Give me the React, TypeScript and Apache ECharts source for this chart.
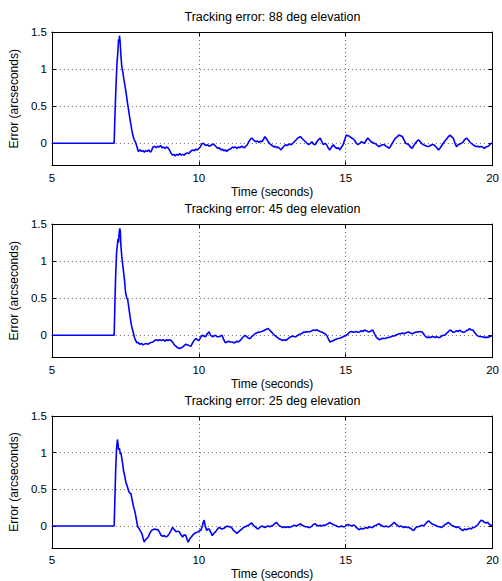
import React, { useEffect, useRef } from "react";
import * as echarts from "echarts";

const titles = [
  "Tracking error: 88 deg elevation",
  "Tracking error: 45 deg elevation",
  "Tracking error: 25 deg elevation",
];
const xTicks = [5, 10, 15, 20];
const yTicks = [0, 0.5, 1, 1.5];

const err88: number[][] = [
  [5,0],[7.12,0],[7.14,0.3],[7.18,0.75],[7.215,1.08],[7.24,1.2],[7.27,1.4],[7.29,1.36],[7.3,1.45],[7.32,1.38],[7.35,1.18],[7.38,1.03],[7.42,0.95],[7.45,0.86],[7.49,0.77],[7.53,0.67],[7.57,0.55],[7.61,0.45],[7.66,0.32],[7.72,0.18],[7.76,0.1],[7.8,0.05],[7.84,0.02],[7.89,-0.04],[7.94,-0.11],[8.0,-0.09],[8.05,-0.11],[8.1,-0.1],[8.15,-0.12],[8.2,-0.1],[8.25,-0.11],[8.3,-0.09],[8.35,-0.12],[8.39,-0.1],[8.44,-0.05],[8.5,-0.04],[8.55,-0.06],[8.6,-0.04],[8.65,-0.05],[8.7,-0.03],[8.75,-0.06],[8.8,-0.05],[8.85,-0.07],[8.9,-0.05],[8.95,-0.06],[9.0,-0.09],[9.05,-0.13],[9.1,-0.16],[9.15,-0.15],[9.2,-0.17],[9.25,-0.15],[9.3,-0.16],[9.35,-0.14],[9.4,-0.16],[9.45,-0.15],[9.5,-0.16],[9.55,-0.14],[9.6,-0.13],[9.65,-0.14],[9.7,-0.12],[9.75,-0.1],[9.8,-0.09],[9.85,-0.1],[9.9,-0.08],[9.95,-0.09],[10.0,-0.07],[10.05,-0.05],[10.1,-0.01],[10.15,0.0],[10.2,-0.02],[10.25,-0.03],[10.3,-0.02],[10.35,-0.04],[10.4,-0.03],[10.45,-0.02],[10.5,-0.01],[10.55,-0.03],[10.6,-0.05],[10.65,-0.07],[10.7,-0.06],[10.75,-0.09],[10.8,-0.08],[10.85,-0.1],[10.9,-0.09],[10.95,-0.11],[11.0,-0.09],[11.05,-0.08],[11.1,-0.07],[11.15,-0.05],[11.2,-0.06],[11.25,-0.05],[11.3,-0.07],[11.35,-0.05],[11.4,-0.06],[11.45,-0.04],[11.5,-0.05],[11.55,-0.06],[11.6,-0.04],[11.65,-0.02],[11.7,0.02],[11.75,0.05],[11.8,0.07],[11.85,0.05],[11.9,0.03],[11.95,0.02],[12.0,0.03],[12.05,0.01],[12.1,0.03],[12.15,0.02],[12.2,0.05],[12.25,0.09],[12.3,0.06],[12.35,0.03],[12.4,0.0],[12.45,-0.02],[12.5,-0.03],[12.55,-0.05],[12.6,-0.04],[12.65,-0.06],[12.7,-0.05],[12.75,-0.07],[12.8,-0.09],[12.85,-0.06],[12.9,-0.04],[12.95,-0.02],[13.0,-0.03],[13.05,-0.02],[13.1,-0.01],[13.15,-0.02],[13.2,0.0],[13.25,0.02],[13.3,0.04],[13.37,0.07],[13.46,0.09],[13.5,0.07],[13.55,0.05],[13.63,0.02],[13.68,0.0],[13.74,-0.02],[13.8,0.0],[13.85,0.02],[13.9,-0.01],[13.96,-0.02],[14.02,0.02],[14.08,0.05],[14.13,0.07],[14.18,0.03],[14.24,-0.02],[14.3,0.0],[14.35,-0.02],[14.4,-0.06],[14.46,-0.09],[14.52,-0.05],[14.58,-0.02],[14.63,-0.05],[14.69,-0.07],[14.75,-0.06],[14.8,-0.09],[14.86,-0.05],[14.91,-0.02],[14.96,0.04],[15.02,0.11],[15.08,0.1],[15.14,0.09],[15.2,0.07],[15.25,0.06],[15.3,0.04],[15.36,0.0],[15.42,-0.02],[15.48,0.0],[15.53,0.02],[15.58,0.01],[15.64,0.0],[15.7,0.04],[15.75,0.07],[15.8,0.05],[15.86,0.02],[15.92,0.01],[15.97,0.0],[16.03,-0.01],[16.08,-0.03],[16.14,-0.045],[16.2,-0.03],[16.25,-0.02],[16.31,-0.02],[16.37,-0.04],[16.42,-0.05],[16.48,-0.07],[16.54,-0.03],[16.6,0.01],[16.65,0.045],[16.7,0.07],[16.76,0.09],[16.81,0.11],[16.87,0.1],[16.93,0.09],[16.98,0.05],[17.04,0.0],[17.1,-0.01],[17.15,-0.02],[17.2,-0.05],[17.26,-0.07],[17.32,-0.03],[17.37,0.0],[17.43,0.03],[17.48,0.045],[17.54,0.02],[17.6,-0.01],[17.65,-0.02],[17.7,-0.03],[17.76,-0.04],[17.82,-0.045],[17.88,-0.03],[17.93,-0.02],[17.99,-0.02],[18.05,-0.04],[18.1,-0.06],[18.16,-0.09],[18.22,-0.06],[18.27,-0.03],[18.32,0.0],[18.38,0.03],[18.44,0.06],[18.5,0.09],[18.55,0.11],[18.6,0.09],[18.66,0.07],[18.72,0.0],[18.77,-0.045],[18.83,-0.02],[18.88,-0.01],[18.94,0.0],[19.0,0.02],[19.05,0.05],[19.11,0.07],[19.16,0.05],[19.22,0.02],[19.27,0.0],[19.33,-0.02],[19.38,-0.03],[19.44,-0.045],[19.5,-0.04],[19.55,-0.05],[19.61,-0.045],[19.66,-0.05],[19.72,-0.07],[19.77,-0.05],[19.83,-0.045],[19.88,-0.03],[19.95,0.0],[20,0.0],
];

const err45: number[][] = [
  [5,0],[7.12,0],[7.14,0.35],[7.17,0.8],[7.2,1.1],[7.215,1.17],[7.23,1.22],[7.25,1.3],[7.27,1.25],[7.29,1.38],[7.31,1.44],[7.33,1.4],[7.35,1.2],[7.38,1.06],[7.42,0.92],[7.47,0.75],[7.51,0.57],[7.55,0.5],[7.58,0.48],[7.62,0.37],[7.66,0.25],[7.7,0.15],[7.74,0.08],[7.78,0.02],[7.81,-0.03],[7.85,-0.07],[7.89,-0.1],[7.94,-0.1],[7.99,-0.12],[8.05,-0.11],[8.1,-0.13],[8.15,-0.12],[8.2,-0.11],[8.28,-0.12],[8.35,-0.1],[8.44,-0.09],[8.5,-0.07],[8.56,-0.06],[8.61,-0.07],[8.67,-0.06],[8.73,-0.07],[8.8,-0.06],[8.85,-0.08],[8.9,-0.06],[8.95,-0.07],[9.0,-0.06],[9.06,-0.07],[9.12,-0.1],[9.17,-0.13],[9.23,-0.15],[9.28,-0.17],[9.34,-0.18],[9.4,-0.17],[9.45,-0.16],[9.5,-0.14],[9.56,-0.12],[9.62,-0.13],[9.67,-0.14],[9.73,-0.15],[9.78,-0.11],[9.84,-0.07],[9.9,-0.045],[9.95,-0.06],[10.01,-0.07],[10.06,-0.03],[10.12,0.0],[10.17,-0.01],[10.23,-0.02],[10.29,0.02],[10.35,0.045],[10.4,0.0],[10.46,-0.02],[10.51,-0.01],[10.57,0.0],[10.62,-0.02],[10.68,-0.02],[10.74,-0.01],[10.79,0.0],[10.85,-0.06],[10.9,-0.1],[10.96,-0.09],[11.02,-0.08],[11.07,-0.09],[11.13,-0.09],[11.18,-0.1],[11.24,-0.1],[11.3,-0.08],[11.35,-0.09],[11.41,-0.07],[11.47,-0.04],[11.52,-0.02],[11.58,0.0],[11.63,-0.02],[11.69,-0.04],[11.74,-0.045],[11.8,-0.02],[11.86,0.0],[11.91,0.02],[11.97,0.03],[12.02,0.04],[12.08,0.045],[12.14,0.05],[12.2,0.06],[12.25,0.07],[12.3,0.08],[12.36,0.09],[12.41,0.07],[12.47,0.045],[12.53,0.02],[12.58,0.0],[12.64,-0.02],[12.7,-0.04],[12.75,-0.05],[12.81,-0.06],[12.86,-0.07],[12.92,-0.06],[12.97,-0.07],[13.03,-0.05],[13.08,-0.03],[13.14,-0.02],[13.2,-0.01],[13.25,-0.02],[13.31,-0.02],[13.37,0.0],[13.42,0.01],[13.48,0.02],[13.53,0.03],[13.58,0.045],[13.63,0.04],[13.68,0.05],[13.74,0.045],[13.79,0.05],[13.85,0.06],[13.9,0.07],[13.96,0.065],[14.02,0.075],[14.07,0.06],[14.13,0.05],[14.18,0.045],[14.24,0.03],[14.3,0.02],[14.35,0.0],[14.4,-0.04],[14.46,-0.09],[14.52,-0.08],[14.58,-0.07],[14.63,-0.06],[14.69,-0.05],[14.74,-0.045],[14.8,-0.04],[14.86,-0.03],[14.91,-0.02],[14.96,-0.01],[15.02,0.0],[15.08,0.02],[15.14,0.045],[15.2,0.05],[15.25,0.04],[15.3,0.045],[15.36,0.05],[15.42,0.04],[15.47,0.045],[15.53,0.06],[15.58,0.05],[15.64,0.07],[15.7,0.06],[15.75,0.05],[15.81,0.045],[15.86,0.06],[15.92,0.07],[15.97,0.03],[16.03,-0.02],[16.08,-0.04],[16.14,-0.06],[16.2,-0.05],[16.25,-0.04],[16.31,-0.045],[16.37,-0.04],[16.42,-0.03],[16.48,-0.03],[16.54,-0.02],[16.6,-0.01],[16.65,-0.01],[16.7,0.0],[16.76,0.01],[16.81,0.02],[16.87,0.02],[16.93,0.03],[16.98,0.02],[17.04,0.03],[17.1,0.04],[17.15,0.045],[17.2,0.03],[17.26,0.02],[17.32,0.03],[17.37,0.04],[17.43,0.045],[17.48,0.045],[17.54,0.05],[17.6,0.045],[17.65,0.02],[17.7,-0.01],[17.76,-0.03],[17.82,-0.025],[17.88,-0.03],[17.93,-0.02],[17.99,-0.02],[18.05,-0.03],[18.1,-0.02],[18.16,-0.03],[18.21,-0.03],[18.27,-0.01],[18.32,0.0],[18.38,0.0],[18.44,0.03],[18.5,0.05],[18.55,0.07],[18.6,0.06],[18.66,0.04],[18.71,0.045],[18.77,0.06],[18.83,0.05],[18.88,0.07],[18.94,0.05],[19.0,0.04],[19.05,0.045],[19.1,0.06],[19.16,0.07],[19.22,0.09],[19.27,0.07],[19.33,0.07],[19.38,0.04],[19.44,0.01],[19.5,-0.01],[19.55,-0.015],[19.61,-0.02],[19.67,-0.02],[19.72,-0.03],[19.78,-0.025],[19.83,-0.03],[19.89,-0.02],[19.95,-0.01],[20,-0.01],
];

const err25: number[][] = [
  [5,0],[7.12,0],[7.14,0.3],[7.17,0.75],[7.2,1.05],[7.23,1.18],[7.25,1.12],[7.27,1.04],[7.3,1.06],[7.33,0.98],[7.35,1.0],[7.38,0.92],[7.41,0.85],[7.44,0.75],[7.48,0.68],[7.52,0.59],[7.56,0.55],[7.61,0.48],[7.65,0.45],[7.69,0.44],[7.73,0.36],[7.77,0.28],[7.8,0.23],[7.83,0.19],[7.87,0.1],[7.92,-0.01],[7.96,-0.03],[8.0,-0.06],[8.03,-0.08],[8.07,-0.11],[8.1,-0.16],[8.14,-0.22],[8.18,-0.19],[8.23,-0.17],[8.28,-0.15],[8.33,-0.1],[8.39,-0.06],[8.44,-0.05],[8.5,-0.04],[8.56,-0.05],[8.61,-0.05],[8.67,-0.09],[8.72,-0.13],[8.78,-0.14],[8.83,-0.13],[8.89,-0.15],[8.95,-0.13],[9.0,-0.1],[9.06,-0.06],[9.11,-0.02],[9.17,-0.05],[9.23,-0.08],[9.28,-0.07],[9.34,-0.08],[9.39,-0.12],[9.45,-0.15],[9.5,-0.12],[9.56,-0.13],[9.6,-0.18],[9.64,-0.22],[9.7,-0.17],[9.75,-0.15],[9.8,-0.12],[9.86,-0.1],[9.92,-0.09],[9.98,-0.08],[10.03,-0.06],[10.07,-0.06],[10.12,0.0],[10.15,0.05],[10.18,0.08],[10.22,0.0],[10.27,-0.06],[10.31,-0.04],[10.35,-0.04],[10.4,-0.08],[10.46,-0.13],[10.51,-0.1],[10.57,-0.08],[10.62,-0.05],[10.68,-0.02],[10.74,-0.03],[10.79,-0.04],[10.85,-0.03],[10.9,-0.02],[10.96,0.0],[11.02,-0.01],[11.07,-0.01],[11.13,-0.03],[11.18,-0.06],[11.24,-0.08],[11.3,-0.1],[11.35,-0.08],[11.41,-0.06],[11.47,-0.04],[11.52,-0.02],[11.58,-0.01],[11.63,0.0],[11.69,0.01],[11.75,0.03],[11.8,0.04],[11.86,0.01],[11.91,-0.01],[11.97,-0.03],[12.02,-0.04],[12.08,-0.02],[12.14,0.0],[12.2,-0.01],[12.25,-0.02],[12.3,-0.01],[12.36,0.0],[12.41,-0.01],[12.47,0.0],[12.53,0.01],[12.58,0.03],[12.64,0.05],[12.7,0.02],[12.75,0.0],[12.81,-0.01],[12.86,-0.02],[12.92,-0.01],[12.97,-0.02],[13.03,-0.01],[13.08,-0.02],[13.14,-0.01],[13.2,0.0],[13.25,0.01],[13.31,0.0],[13.37,0.01],[13.42,0.02],[13.46,0.03],[13.52,0.01],[13.57,0.0],[13.63,-0.01],[13.68,-0.01],[13.74,-0.02],[13.79,-0.02],[13.85,0.0],[13.9,0.02],[13.96,0.03],[14.02,0.01],[14.07,0.0],[14.13,0.01],[14.18,0.0],[14.24,0.01],[14.3,0.01],[14.35,0.02],[14.4,0.03],[14.46,0.05],[14.52,0.03],[14.58,0.02],[14.63,0.01],[14.69,0.0],[14.74,-0.01],[14.8,-0.01],[14.86,0.0],[14.91,-0.01],[14.97,-0.01],[15.02,0.01],[15.08,0.02],[15.14,0.01],[15.2,0.0],[15.25,0.01],[15.3,0.01],[15.36,-0.02],[15.42,-0.04],[15.47,-0.05],[15.53,-0.03],[15.58,-0.04],[15.64,-0.03],[15.7,-0.02],[15.75,-0.03],[15.81,-0.01],[15.86,-0.02],[15.92,-0.02],[15.97,0.0],[16.03,0.01],[16.08,0.02],[16.14,0.03],[16.2,0.01],[16.25,0.0],[16.31,-0.01],[16.37,0.0],[16.42,-0.01],[16.48,-0.01],[16.54,0.01],[16.6,0.03],[16.65,0.05],[16.7,0.03],[16.76,0.01],[16.81,-0.01],[16.87,0.0],[16.93,-0.01],[16.98,-0.02],[17.04,-0.01],[17.1,-0.02],[17.15,-0.02],[17.2,-0.03],[17.26,-0.05],[17.32,-0.06],[17.37,-0.03],[17.43,-0.01],[17.48,-0.01],[17.54,0.0],[17.6,0.01],[17.65,0.0],[17.7,0.02],[17.76,0.05],[17.82,0.07],[17.88,0.05],[17.93,0.03],[17.99,0.02],[18.05,0.01],[18.1,0.0],[18.16,-0.01],[18.21,-0.01],[18.27,-0.02],[18.32,0.0],[18.38,0.02],[18.44,0.03],[18.49,0.05],[18.55,0.03],[18.6,0.01],[18.66,0.0],[18.71,-0.01],[18.77,-0.02],[18.83,-0.01],[18.88,-0.03],[18.94,-0.05],[19.0,-0.06],[19.05,-0.04],[19.11,-0.05],[19.16,-0.04],[19.22,-0.03],[19.27,-0.04],[19.33,-0.02],[19.38,-0.02],[19.44,0.0],[19.5,0.02],[19.55,0.05],[19.61,0.08],[19.67,0.07],[19.72,0.05],[19.78,0.04],[19.83,0.05],[19.89,0.02],[19.95,0.01],[20,0.0],
];

const seriesData = [err88, err45, err25];

const FONT = "'Liberation Sans', Arial, Helvetica, sans-serif";
const GRID_TOPS = [32, 224, 416];
const GRID_LEFT = 49;
const GRID_W = 447;
const GRID_H = 133.5;

export default function App() {
  const ref = useRef<HTMLDivElement>(null);
  useEffect(() => {
    if (!ref.current) return;
    const chart = echarts.init(ref.current, undefined, { renderer: "svg" });
    const grids: any[] = [];
    const xAxes: any[] = [];
    const yAxes: any[] = [];
    const series: any[] = [];
    const titleArr: any[] = [];
    const lineCol = "#000";
    const dotted = { color: "#444", width: 0.8, type: [1, 3] as any };

    GRID_TOPS.forEach((top, i) => {
      grids.push({ left: GRID_LEFT, top, width: GRID_W, height: GRID_H, show: false });
      titleArr.push({
        text: titles[i],
        left: GRID_LEFT + GRID_W / 2,
        top: top - 22,
        textAlign: "center",
        padding: 0,
        textStyle: { fontFamily: FONT, fontSize: 12.5, fontWeight: "normal", color: "#000" },
      });
      xAxes.push({
        type: "value",
        gridIndex: i,
        position: "bottom",
        min: 5,
        max: 20,
        interval: 5,
        name: "Time (seconds)",
        nameLocation: "middle",
        nameGap: 20,
        nameTextStyle: { fontFamily: FONT, fontSize: 12, color: "#000" },
        axisLine: { show: true, onZero: false, lineStyle: { color: lineCol, width: 1 } },
        axisTick: { show: true, inside: true, length: 4, lineStyle: { color: lineCol } },
        axisLabel: { fontFamily: FONT, fontSize: 11.5, color: "#000", margin: 6, customValues: xTicks },
        splitLine: { show: true, lineStyle: dotted },
      });
      xAxes.push({
        type: "value",
        gridIndex: i,
        position: "top",
        min: 5,
        max: 20,
        interval: 5,
        axisLine: { show: true, onZero: false, lineStyle: { color: lineCol, width: 1 } },
        axisTick: { show: true, inside: true, length: 4, lineStyle: { color: lineCol } },
        axisLabel: { show: false },
        splitLine: { show: false },
      });
      yAxes.push({
        type: "value",
        gridIndex: i,
        position: "left",
        min: -0.3,
        max: 1.5,
        name: "Error (arcseconds)",
        nameLocation: "middle",
        nameGap: 26,
        nameTextStyle: { fontFamily: FONT, fontSize: 12, color: "#000" },
        axisLine: { show: true, onZero: false, lineStyle: { color: lineCol, width: 1 } },
        axisTick: { show: true, inside: true, length: 4, customValues: yTicks, lineStyle: { color: lineCol } },
        axisLabel: { fontFamily: FONT, fontSize: 11.5, color: "#000", margin: 5, customValues: yTicks },
        splitLine: { show: true, lineStyle: dotted },
      });
      yAxes.push({
        type: "value",
        gridIndex: i,
        position: "right",
        min: -0.3,
        max: 1.5,
        axisLine: { show: true, onZero: false, lineStyle: { color: lineCol, width: 1 } },
        axisTick: { show: true, inside: true, length: 4, customValues: yTicks, lineStyle: { color: lineCol } },
        axisLabel: { show: false },
        splitLine: { show: false },
      });
      series.push({
        type: "line",
        xAxisIndex: 2 * i,
        yAxisIndex: 2 * i,
        data: seriesData[i],
        showSymbol: false,
        symbol: "none",
        lineStyle: { color: "#0000ff", width: 1.6 },
        z: 3,
      });
    });

    chart.setOption({
      animation: false,
      backgroundColor: "#fff",
      title: titleArr,
      grid: grids,
      xAxis: xAxes,
      yAxis: yAxes,
      series,
    });
    return () => chart.dispose();
  }, []);
  return (
    <div
      ref={ref}
      style={{ position: "fixed", left: 0, top: 0, width: 502, height: 581, background: "#fff" }}
    />
  );
}
